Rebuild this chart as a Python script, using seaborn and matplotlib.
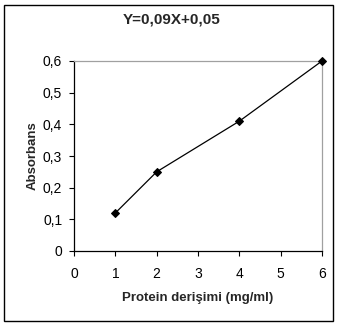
import matplotlib
matplotlib.use("Agg")
import matplotlib.pyplot as plt
import seaborn as sns
import pandas as pd
from matplotlib.patches import Rectangle

concentration = [1, 2, 4, 6]
absorbance = [0.12, 0.25, 0.41, 0.6]
x_ticks = [0, 1, 2, 3, 4, 5, 6]
y_ticks = [0, 0.1, 0.2, 0.3, 0.4, 0.5, 0.6]
y_tick_labels = ["0", "0,1", "0,2", "0,3", "0,4", "0,5", "0,6"]
title = "Y=0,09X+0,05"
xlabel = "Protein derişimi (mg/ml)"
ylabel = "Absorbans"

sns.set_theme(style="white")
plt.rcParams['font.family'] = ['Liberation Sans', 'DejaVu Sans']

df = pd.DataFrame({"x": concentration, "y": absorbance})

fig = plt.figure(figsize=(3.38, 3.25), dpi=100)
W, H = 338, 325
ax = fig.add_axes([74 / W, 1 - 251 / H, (322 - 74) / W, (251 - 61) / H])

sns.lineplot(data=df, x="x", y="y", ax=ax, color="black", lw=0.9,
             marker="D", markersize=4.5, markeredgecolor="black",
             markerfacecolor="black", clip_on=False, zorder=5)

ax.set_xlim(0, 6)
ax.set_ylim(0, 0.6)
ax.set_xticks(x_ticks)
ax.set_xticklabels([str(v) for v in x_ticks])
ax.set_yticks(y_ticks)
ax.set_yticklabels(y_tick_labels)
ax.tick_params(axis="both", direction="out", length=3.5, width=0.8, colors="black",
               labelsize=10, pad=5, bottom=True, left=True)
ax.tick_params(axis="x", pad=8)
for side in ["left", "bottom"]:
    ax.spines[side].set_color("black")
    ax.spines[side].set_linewidth(0.9)
for side in ["top", "right"]:
    ax.spines[side].set_color("#a0a0a0")
    ax.spines[side].set_linewidth(0.9)

ax.set_xlabel(xlabel, fontsize=9.5, fontweight="bold", labelpad=8)
ax.set_ylabel(ylabel, fontsize=9.5, fontweight="bold", labelpad=3)
fig.text(172 / W, 1 - 19 / H, title, ha="center", va="center",
         fontsize=11, fontweight="bold")

fig.patches.append(Rectangle((4 / W, 4 / H), (333 - 4) / W, (320 - 4) / H,
                             transform=fig.transFigure, fill=False,
                             edgecolor="black", lw=1.0))

fig.savefig("out.png", dpi=100)
